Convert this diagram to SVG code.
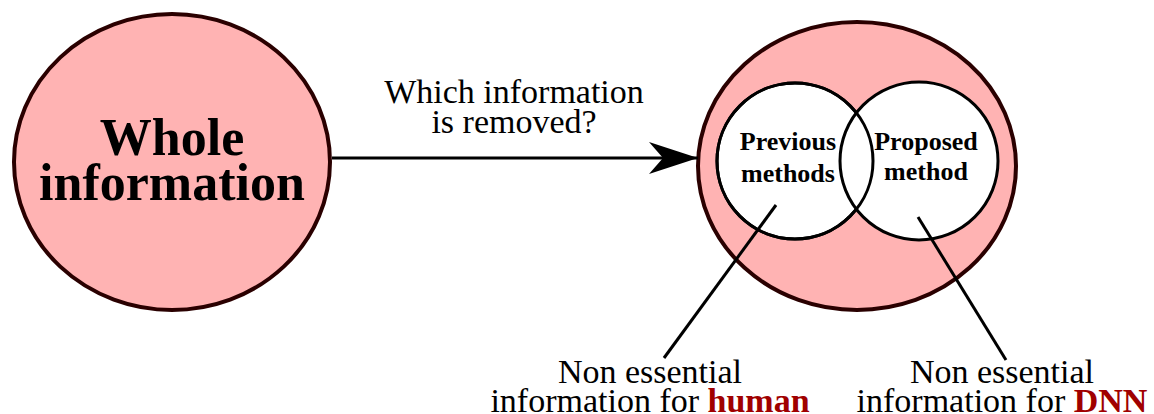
<svg xmlns="http://www.w3.org/2000/svg" width="1154" height="414" viewBox="0 0 1154 414">
  <style>
    .serif { font-family: "Liberation Serif", "Times New Roman", serif; }
    .big { fill: #ffb3b3; stroke: #2a0000; stroke-width: 4; }
    .inner { fill: #ffffff; stroke: #000000; stroke-width: 3; }
    .line { stroke: #000000; stroke-width: 3; fill: none; }
    .title { font-size: 52px; font-weight: bold; text-anchor: middle; }
    .label { font-size: 26px; font-weight: bold; text-anchor: middle; }
    .note { font-size: 34px; text-anchor: middle; }
    .hl { font-weight: bold; fill: #a00000; }
  </style>
  <defs>
    <marker id="arrow" markerUnits="userSpaceOnUse" markerWidth="52" markerHeight="32" refX="50" refY="16" orient="auto">
      <path d="M50,16 L1,0 L15,16 L1,32 Z" fill="#000000"/>
    </marker>
  </defs>
  <rect width="1154" height="414" fill="#ffffff"/>

  <g id="whole">
    <ellipse class="big" cx="172" cy="162" rx="158" ry="148"/>
    <text class="serif title" x="172" y="155">Whole</text>
    <text class="serif title" x="172" y="200">information</text>
  </g>

  <g id="removed">
    <ellipse class="big" cx="857" cy="166" rx="159" ry="144"/>
  </g>

  <g id="previous">
    <circle class="inner" cx="795" cy="161" r="78"/>
  </g>

  <g id="proposed">
    <circle class="inner" cx="919" cy="161" r="79"/>
  </g>

  <!-- left ring redrawn so the overlap shows both outlines -->
  <circle cx="795" cy="161" r="78" fill="none" stroke="#000000" stroke-width="3"/>
  <text class="serif label" x="788" y="150">Previous</text>
  <text class="serif label" x="788" y="182">methods</text>
  <text class="serif label" x="926" y="150">Proposed</text>
  <text class="serif label" x="926" y="180">method</text>

  <g id="connectors">
    <line class="line" x1="332" y1="158" x2="698" y2="158" marker-end="url(#arrow)"/>
    <line class="line" x1="776" y1="205" x2="664" y2="358"/>
    <line class="line" x1="918" y1="217" x2="1006" y2="360"/>
  </g>

  <g id="question">
    <text class="serif note" x="514" y="103">Which information</text>
    <text class="serif note" x="514" y="133">is removed?</text>
  </g>

  <g id="note-human">
    <text class="serif note" x="650" y="383">Non essential</text>
    <text class="serif note" x="650" y="412">information for <tspan class="hl">human</tspan></text>
  </g>

  <g id="note-dnn">
    <text class="serif note" x="1002" y="383">Non essential</text>
    <text class="serif note" x="1002" y="412">information for <tspan class="hl">DNN</tspan></text>
  </g>
</svg>
